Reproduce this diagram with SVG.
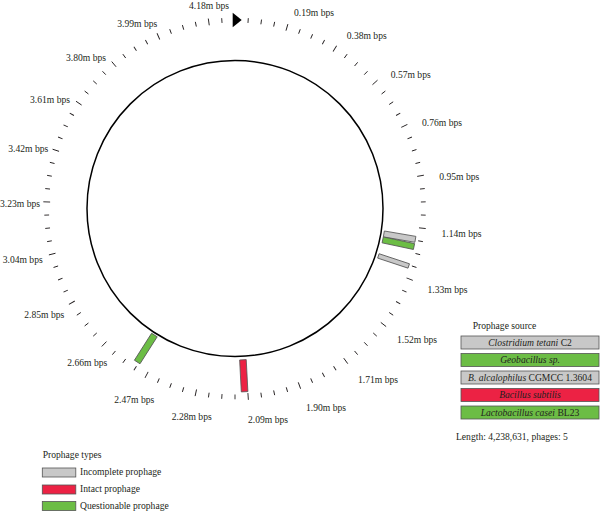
<svg xmlns="http://www.w3.org/2000/svg" xmlns:xlink="http://www.w3.org/1999/xlink" width="600" height="512" viewBox="0 0 600 512">
<style>
text{font-family:"Liberation Serif","Times New Roman",serif;font-size:9.6px;fill:#231f20}
.tl{text-anchor:start}
.tr{text-anchor:end}
.mid{text-anchor:middle}
.it{font-style:italic}
.tick{stroke:#231f20;stroke-width:0.9}
.gray{fill:#c8c8c8;stroke:#555;stroke-width:0.8}
.green{fill:#6cbd45;stroke:#555;stroke-width:0.8}
.red{fill:#ec2244;stroke:#555;stroke-width:0.8}
</style>
<defs>
<line id="tm" class="tick" x1="0" y1="-186" x2="0" y2="-190.8"/>
<line id="tM" class="tick" x1="0" y1="-185" x2="0" y2="-191.8"/>
</defs>
<rect width="600" height="512" fill="#fff"/>
<g id="backbone">
<circle cx="235" cy="208.5" r="148" fill="none" stroke="#000" stroke-width="1.5"/>
<polygon points="232.7,12.7 232.7,27.3 241.7,20" fill="#000"/>
</g>
<g id="ticks" transform="translate(235,208.5)">
<use xlink:href="#tm" transform="rotate(4)"/><use xlink:href="#tm" transform="rotate(8)"/><use xlink:href="#tm" transform="rotate(12)"/><use xlink:href="#tM" transform="rotate(16)"/>
<use xlink:href="#tm" transform="rotate(20)"/><use xlink:href="#tm" transform="rotate(24)"/><use xlink:href="#tm" transform="rotate(28)"/><use xlink:href="#tM" transform="rotate(32)"/>
<use xlink:href="#tm" transform="rotate(36)"/><use xlink:href="#tm" transform="rotate(40)"/><use xlink:href="#tm" transform="rotate(44)"/><use xlink:href="#tM" transform="rotate(48)"/>
<use xlink:href="#tm" transform="rotate(52)"/><use xlink:href="#tm" transform="rotate(56)"/><use xlink:href="#tm" transform="rotate(60)"/><use xlink:href="#tM" transform="rotate(64)"/>
<use xlink:href="#tm" transform="rotate(68)"/><use xlink:href="#tm" transform="rotate(72)"/><use xlink:href="#tm" transform="rotate(76)"/><use xlink:href="#tM" transform="rotate(80)"/>
<use xlink:href="#tm" transform="rotate(84)"/><use xlink:href="#tm" transform="rotate(88)"/><use xlink:href="#tm" transform="rotate(92)"/><use xlink:href="#tM" transform="rotate(96)"/>
<use xlink:href="#tm" transform="rotate(100)"/><use xlink:href="#tm" transform="rotate(104)"/><use xlink:href="#tm" transform="rotate(108)"/><use xlink:href="#tM" transform="rotate(112)"/>
<use xlink:href="#tm" transform="rotate(116)"/><use xlink:href="#tm" transform="rotate(120)"/><use xlink:href="#tm" transform="rotate(124)"/><use xlink:href="#tM" transform="rotate(128)"/>
<use xlink:href="#tm" transform="rotate(132)"/><use xlink:href="#tm" transform="rotate(136)"/><use xlink:href="#tm" transform="rotate(140)"/><use xlink:href="#tM" transform="rotate(144)"/>
<use xlink:href="#tm" transform="rotate(148)"/><use xlink:href="#tm" transform="rotate(152)"/><use xlink:href="#tm" transform="rotate(156)"/><use xlink:href="#tM" transform="rotate(160)"/>
<use xlink:href="#tm" transform="rotate(164)"/><use xlink:href="#tm" transform="rotate(168)"/><use xlink:href="#tm" transform="rotate(172)"/><use xlink:href="#tM" transform="rotate(176)"/>
<use xlink:href="#tm" transform="rotate(180)"/><use xlink:href="#tm" transform="rotate(184)"/><use xlink:href="#tm" transform="rotate(188)"/><use xlink:href="#tM" transform="rotate(192)"/>
<use xlink:href="#tm" transform="rotate(196)"/><use xlink:href="#tm" transform="rotate(200)"/><use xlink:href="#tm" transform="rotate(204)"/><use xlink:href="#tM" transform="rotate(208)"/>
<use xlink:href="#tm" transform="rotate(212)"/><use xlink:href="#tm" transform="rotate(216)"/><use xlink:href="#tm" transform="rotate(220)"/><use xlink:href="#tM" transform="rotate(224)"/>
<use xlink:href="#tm" transform="rotate(228)"/><use xlink:href="#tm" transform="rotate(232)"/><use xlink:href="#tm" transform="rotate(236)"/><use xlink:href="#tM" transform="rotate(240)"/>
<use xlink:href="#tm" transform="rotate(244)"/><use xlink:href="#tm" transform="rotate(248)"/><use xlink:href="#tm" transform="rotate(252)"/><use xlink:href="#tM" transform="rotate(256)"/>
<use xlink:href="#tm" transform="rotate(260)"/><use xlink:href="#tm" transform="rotate(264)"/><use xlink:href="#tm" transform="rotate(268)"/><use xlink:href="#tM" transform="rotate(272)"/>
<use xlink:href="#tm" transform="rotate(276)"/><use xlink:href="#tm" transform="rotate(280)"/><use xlink:href="#tm" transform="rotate(284)"/><use xlink:href="#tM" transform="rotate(288)"/>
<use xlink:href="#tm" transform="rotate(292)"/><use xlink:href="#tm" transform="rotate(296)"/><use xlink:href="#tm" transform="rotate(300)"/><use xlink:href="#tM" transform="rotate(304)"/>
<use xlink:href="#tm" transform="rotate(308)"/><use xlink:href="#tm" transform="rotate(312)"/><use xlink:href="#tm" transform="rotate(316)"/><use xlink:href="#tM" transform="rotate(320)"/>
<use xlink:href="#tm" transform="rotate(324)"/><use xlink:href="#tm" transform="rotate(328)"/><use xlink:href="#tm" transform="rotate(332)"/><use xlink:href="#tM" transform="rotate(336)"/>
<use xlink:href="#tm" transform="rotate(340)"/><use xlink:href="#tm" transform="rotate(344)"/><use xlink:href="#tm" transform="rotate(348)"/><use xlink:href="#tM" transform="rotate(352)"/>
<use xlink:href="#tm" transform="rotate(356)"/>
</g>
<g id="tick-labels">
<text class="tl" x="294" y="16.3">0.19m bps</text>
<text class="tl" x="346.7" y="39.3">0.38m bps</text>
<text class="tl" x="390.7" y="77.6">0.57m bps</text>
<text class="tl" x="422" y="126">0.76m bps</text>
<text class="tl" x="439.3" y="180">0.95m bps</text>
<text class="tl" x="441.5" y="236.6">1.14m bps</text>
<text class="tl" x="427.5" y="293.3">1.33m bps</text>
<text class="tl" x="397" y="343.3">1.52m bps</text>
<text class="tl" x="358" y="383.3">1.71m bps</text>
<text class="tl" x="306" y="411.3">1.90m bps</text>
<text class="tl" x="248" y="423.3">2.09m bps</text>
<text class="tr" x="211.7" y="420">2.28m bps</text>
<text class="tr" x="154.3" y="402.6">2.47m bps</text>
<text class="tr" x="107.3" y="366">2.66m bps</text>
<text class="tr" x="64.3" y="318.3">2.85m bps</text>
<text class="tr" x="42.7" y="263.3">3.04m bps</text>
<text class="tr" x="40" y="206.6">3.23m bps</text>
<text class="tr" x="48.3" y="152.3">3.42m bps</text>
<text class="tr" x="70" y="102.6">3.61m bps</text>
<text class="tr" x="106" y="61.3">3.80m bps</text>
<text class="tr" x="157.3" y="27.3">3.99m bps</text>
<text class="tr" x="229" y="9.3">4.18m bps</text>
</g>
<g id="prophages" transform="translate(235,208.5)">
<rect id="p1" class="gray" x="-3" y="-183" width="6" height="32" transform="rotate(99.7)"/>
<rect id="p2" class="green" x="-3" y="-183" width="6" height="32" transform="rotate(102)"/>
<rect id="p3" class="gray" x="-2.3" y="-183" width="4.6" height="32" transform="rotate(108.3)"/>
<rect id="p4" class="red" x="-3.3" y="-183.5" width="6.6" height="32" transform="rotate(177)"/>
<rect id="p5" class="green" x="-3.3" y="-182" width="6.6" height="32" transform="rotate(212.5)"/>
</g>
<g id="legend-source">
<text x="472.7" y="328.6">Prophage source</text>
<rect class="gray" x="461" y="336" width="138" height="13"/>
<text class="mid" x="530" y="345.8"><tspan class="it">Clostridium tetani</tspan> C2</text>
<rect class="green" x="461" y="353.5" width="138" height="13"/>
<text class="mid it" x="530" y="363.3">Geobacillus sp.</text>
<rect class="gray" x="461" y="371" width="138" height="13"/>
<text class="mid" x="530" y="380.8"><tspan class="it">B. alcalophilus</tspan> CGMCC 1.3604</text>
<rect class="red" x="461" y="388.5" width="138" height="13"/>
<text class="mid it" x="530" y="398.3">Bacillus subtilis</text>
<rect class="green" x="461" y="406" width="138" height="13"/>
<text class="mid" x="530" y="415.8"><tspan class="it">Lactobacillus casei</tspan> BL23</text>
<text x="456" y="440">Length: 4,238,631, phages: 5</text>
</g>
<g id="legend-types">
<text x="42.7" y="458.3">Prophage types</text>
<rect class="gray" x="42.3" y="468" width="33.5" height="9"/>
<text x="80" y="475.3">Incomplete prophage</text>
<rect class="red" x="42.3" y="485" width="33.5" height="9"/>
<text x="80" y="492.3">Intact prophage</text>
<rect class="green" x="42.3" y="501.5" width="33.5" height="9"/>
<text x="80" y="509.3">Questionable prophage</text>
</g>
</svg>
